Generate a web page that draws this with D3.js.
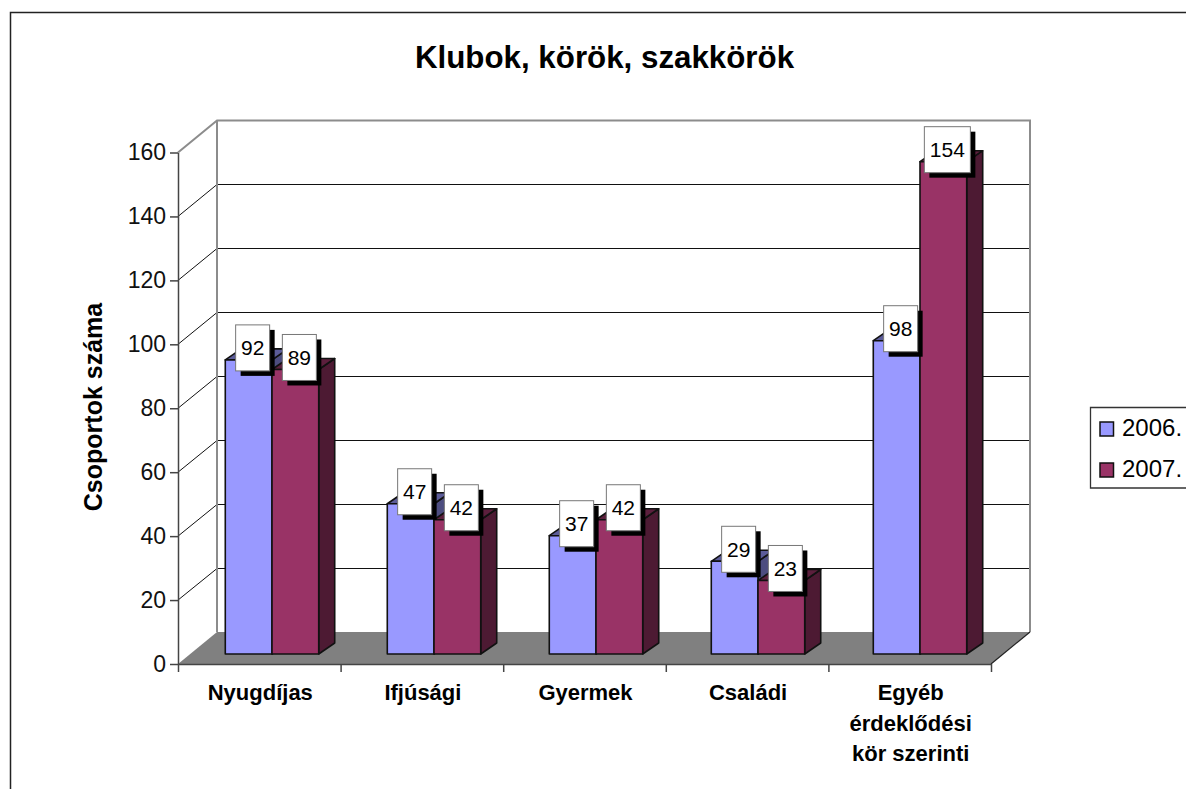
<!DOCTYPE html>
<html>
<head>
<meta charset="utf-8">
<script src="https://cdn.jsdelivr.net/npm/d3@7"></script>
<style>
  body { margin: 0; background: #fff; }
  svg { display: block; font-family: "Liberation Sans", Arial, sans-serif; }
</style>
</head>
<body>
<svg width="1186" height="789"></svg>
<script>
// Values
const CATEGORIES = ["Nyugdíjas", "Ifjúsági", "Gyermek", "Családi", "Egyéb"];
const CATEGORY_LINES = [["Nyugdíjas"], ["Ifjúsági"], ["Gyermek"], ["Családi"], ["Egyéb", "érdeklődési", "kör szerinti"]];
const SERIES = ["2006.", "2007."];
const VALUES_2006 = [92, 47, 37, 29, 98];
const VALUES_2007 = [89, 42, 42, 23, 154];
const Y_TICKS = [0, 20, 40, 60, 80, 100, 120, 140, 160];

const FRONT = ["#9999ff", "#993366"];
const TOP_FACE = ["#5c5c99", "#5c1f3d"];
const SIDE_FACE = ["#4d4d80", "#4d1a33"];
const INK = "#111";

const svg = d3.select("svg");

// Chart constants
const plotLeft = 178, plotRight = 991, plotBottom = 664, plotTop = 152.5;
const wallDx = 39, wallDy = 32;   // depth of the whole box
const barDx = 13, barDy = 10;     // where the bars stand on the floor
const depthDx = 16, depthDy = 11; // depth of one bar

// Bars sit a touch tighter than the category ticks in the original
const x = d3.scaleBand().domain(CATEGORIES).range([plotLeft, plotLeft + 810]);
const xTicks = d3.scaleBand().domain(CATEGORIES).range([plotLeft, plotRight]);
const xSeries = d3.scaleBand().domain(SERIES).range([0, x.bandwidth()]).paddingInner(0).paddingOuter(0.734);
const y = d3.scaleLinear().domain([0, 160]).range([plotBottom, plotTop]);

const poly = (pts) => pts.map((p) => p.join(",")).join(" ");

// Outer frame, open on the right and at the bottom
svg.append("path")
    .attr("d", "M10.5,789V12.5H1186")
    .attr("fill", "none")
    .attr("stroke", "#222")
    .attr("stroke-width", 1.5);

svg.append("text")
    .attr("x", 604.5)
    .attr("y", 68)
    .attr("text-anchor", "middle")
    .attr("font-size", 31.3)
    .attr("font-weight", "bold")
    .text("Klubok, körök, szakkörök");

// Floor
svg.append("polygon")
    .attr("points", poly([[plotLeft, plotBottom], [plotRight, plotBottom], [plotRight + wallDx, plotBottom - wallDy], [plotLeft + wallDx, plotBottom - wallDy]]))
    .attr("fill", "#808080");

// Gridlines on the back wall and the left wall
const grid = svg.append("g");
Y_TICKS.filter((t) => t > 0 && t < 160).forEach((t) => {
    const back = Math.round(y(t) - wallDy) + 0.5;
    grid.append("path")
        .attr("d", `M${plotLeft},${y(t)}L${plotLeft + wallDx},${back}H${plotRight + wallDx}`)
        .attr("fill", "none")
        .attr("stroke", "#111")
        .attr("stroke-width", 1);
});

// Wall outline
svg.append("path")
    .attr("d", `M${plotLeft},${y(160)}L${plotLeft + wallDx},${y(160) - wallDy}H${plotRight + wallDx}V${plotBottom - wallDy}`)
    .attr("fill", "none")
    .attr("stroke", "#8c8c8c")
    .attr("stroke-width", 2);
svg.append("line")
    .attr("x1", plotLeft + wallDx).attr("x2", plotLeft + wallDx)
    .attr("y1", y(160) - wallDy).attr("y2", plotBottom - wallDy)
    .attr("stroke", "#8c8c8c")
    .attr("stroke-width", 2);
svg.append("line")
    .attr("x1", plotRight).attr("x2", plotRight + wallDx)
    .attr("y1", plotBottom).attr("y2", plotBottom - wallDy)
    .attr("stroke", "#222")
    .attr("stroke-width", 1.2);

// Bars
const rows = CATEGORIES.flatMap((c, i) => [
    { cat: c, s: 0, name: SERIES[0], value: VALUES_2006[i] },
    { cat: c, s: 1, name: SERIES[1], value: VALUES_2007[i] }
]);
const barX = (d) => x(d.cat) + xSeries(d.name) + barDx;
const barTop = (d) => y(d.value) - barDy;
const barBase = y(0) - barDy;
const w = xSeries.bandwidth();

const bars = svg.append("g")
    .selectAll("g")
    .data(rows)
    .enter()
    .append("g")
    .attr("stroke", INK)
    .attr("stroke-width", 1.6)
    .attr("stroke-linejoin", "round");

bars.append("polygon")
    .attr("points", (d) => poly([
        [barX(d) + w, barBase], [barX(d) + w + depthDx, barBase - depthDy],
        [barX(d) + w + depthDx, barTop(d) - depthDy], [barX(d) + w, barTop(d)]
    ]))
    .attr("fill", (d) => SIDE_FACE[d.s]);
bars.append("polygon")
    .attr("points", (d) => poly([
        [barX(d), barTop(d)], [barX(d) + depthDx, barTop(d) - depthDy],
        [barX(d) + w + depthDx, barTop(d) - depthDy], [barX(d) + w, barTop(d)]
    ]))
    .attr("fill", (d) => TOP_FACE[d.s]);
bars.append("rect")
    .attr("x", barX)
    .attr("y", barTop)
    .attr("width", w)
    .attr("height", (d) => barBase - barTop(d))
    .attr("fill", (d) => FRONT[d.s]);

// Axes
const yAxis = svg.append("g")
    .attr("transform", `translate(${plotLeft},0)`)
    .call(d3.axisLeft(y).tickValues(Y_TICKS).tickSize(8).tickSizeOuter(0).tickPadding(4));
const xAxis = svg.append("g")
    .attr("transform", `translate(0,${plotBottom})`)
    .call(d3.axisBottom(d3.scaleLinear().domain([0, 5]).range([plotLeft, plotRight])).ticks(5).tickFormat("").tickSize(8).tickSizeOuter(0));
[yAxis, xAxis].forEach((a) => {
    a.selectAll("path, line").attr("stroke", "#444").attr("stroke-width", 1.5);
});
yAxis.selectAll("text")
    .attr("font-family", "Liberation Sans, Arial, sans-serif")
    .attr("font-size", 23)
    .attr("fill", "#111");

svg.append("g")
    .selectAll("text")
    .data(CATEGORIES)
    .enter()
    .append("text")
    .attr("text-anchor", "middle")
    .attr("font-size", 22)
    .attr("font-weight", "bold")
    .each(function (c, i) {
        CATEGORY_LINES[i].forEach((line, j) => {
            d3.select(this).append("tspan")
                .attr("x", xTicks(c) + xTicks.bandwidth() / 2 + 1)
                .attr("y", 700 + j * 30.5)
                .text(line);
        });
    });

svg.append("text")
    .attr("transform", "translate(102,407) rotate(-90)")
    .attr("text-anchor", "middle")
    .attr("font-size", 25)
    .attr("font-weight", "bold")
    .text("Csoportok száma");

// Data labels with hard shadow
const labels = svg.append("g")
    .selectAll("g")
    .data(rows)
    .enter()
    .append("g")
    .attr("transform", (d) => `translate(${barX(d) + w / 2 + 4},${barTop(d) - 12})`);
const labelW = (d) => (d.value >= 100 ? 46 : 34);
labels.append("rect")
    .attr("x", (d) => -labelW(d) / 2 + 5)
    .attr("y", -23 + 5)
    .attr("width", labelW)
    .attr("height", 46)
    .attr("fill", "#000");
labels.append("rect")
    .attr("x", (d) => -labelW(d) / 2)
    .attr("y", -23)
    .attr("width", labelW)
    .attr("height", 46)
    .attr("fill", "#fff")
    .attr("stroke", "#777")
    .attr("stroke-width", 1);
labels.append("text")
    .attr("text-anchor", "middle")
    .attr("y", 7.5)
    .attr("font-size", 21)
    .text((d) => d.value);

// Legend
const legend = svg.append("g");
legend.append("path")
    .attr("d", "M1186,407.5H1090.5V488H1186")
    .attr("fill", "none")
    .attr("stroke", "#333")
    .attr("stroke-width", 1.3);
const legendY = d3.scalePoint().domain(SERIES).range([429, 470]);
const items = legend.selectAll("g")
    .data(SERIES)
    .enter()
    .append("g")
    .attr("transform", (d) => `translate(0,${legendY(d)})`);
items.append("rect")
    .attr("x", 1100)
    .attr("y", -7)
    .attr("width", 13.5)
    .attr("height", 14)
    .attr("fill", (d, i) => FRONT[i])
    .attr("stroke", INK)
    .attr("stroke-width", 1.5);
items.append("text")
    .attr("x", 1122)
    .attr("y", 7)
    .attr("font-size", 24)
    .text((d) => d);
</script>
</body>
</html>
